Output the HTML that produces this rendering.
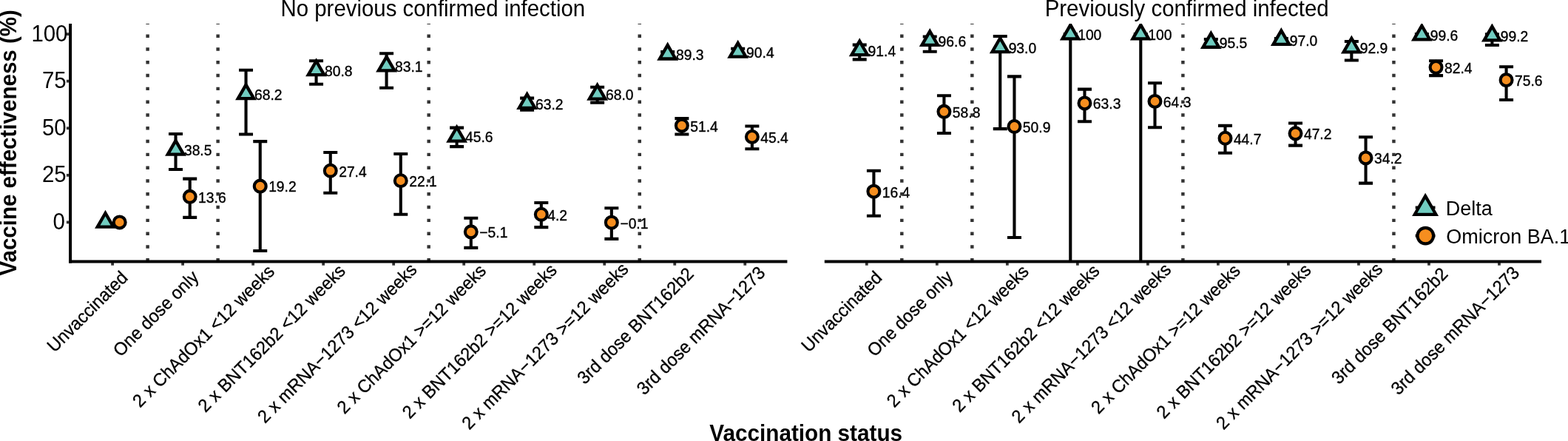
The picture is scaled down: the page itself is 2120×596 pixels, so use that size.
<!DOCTYPE html>
<html lang="en"><head><meta charset="utf-8"><title>Vaccine effectiveness against Delta and Omicron BA.1</title>
<style>html,body{margin:0;padding:0;background:#fff;overflow:hidden;}svg{display:block;}</style></head>
<body>
<svg width="2120" height="596" viewBox="0 0 2120 596">
<rect width="2120" height="596" fill="#fff"/>
<defs>
<clipPath id="cl"><rect x="95.1" y="32.0" width="969.3" height="321.5"/></clipPath>
<clipPath id="cr"><rect x="1114.8" y="32.0" width="969.2" height="321.5"/></clipPath>
</defs>
<g font-family="&quot;Liberation Sans&quot;, Arial, Helvetica, sans-serif" fill="#000">
<!-- panel: No previous confirmed infection -->
<g clip-path="url(#cl)">
<g stroke="#000" stroke-width="4.1" fill="none"><path d="M228.02,181.00H247.02M237.52,181.00V229.00M228.02,229.00H247.02"/><path d="M247.22,241.60H266.22M256.72,241.60V293.90M247.22,293.90H266.22"/><path d="M323.04,94.80H342.04M332.54,94.80V181.50M323.04,181.50H342.04"/><path d="M342.24,191.10H361.24M351.74,191.10V339.00M342.24,339.00H361.24"/><path d="M418.06,82.20H437.06M427.56,82.20V113.80M418.06,113.80H437.06"/><path d="M437.26,206.00H456.26M446.76,206.00V260.70M437.26,260.70H456.26"/><path d="M513.08,72.30H532.08M522.58,72.30V118.70M513.08,118.70H532.08"/><path d="M532.28,208.00H551.28M541.78,208.00V289.80M532.28,289.80H551.28"/><path d="M608.10,172.60H627.10M617.60,172.60V198.10M608.10,198.10H627.10"/><path d="M627.30,294.80H646.30M636.80,294.80V334.90M627.30,334.90H646.30"/><path d="M703.12,132.60H722.12M712.62,132.60V148.70M703.12,148.70H722.12"/><path d="M722.32,274.00H741.32M731.82,274.00V307.10M722.32,307.10H741.32"/><path d="M798.14,117.80H817.14M807.64,117.80V138.60M798.14,138.60H817.14"/><path d="M817.34,281.30H836.34M826.84,281.30V322.90M817.34,322.90H836.34"/><path d="M893.16,70.10H912.16M902.66,70.10V76.00M893.16,76.00H912.16"/><path d="M912.36,160.10H931.36M921.86,160.10V181.50M912.36,181.50H931.36"/><path d="M988.18,65.80H1007.18M997.68,65.80V75.00M988.18,75.00H1007.18"/><path d="M1007.38,170.50H1026.38M1016.88,170.50V201.20M1007.38,201.20H1026.38"/></g>
<path d="M142.50,288.00L153.24,306.60L131.76,306.60Z" fill="#70ccc0" stroke="#000" stroke-width="4.3" stroke-miterlimit="10"/>
<circle cx="161.70" cy="300.40" r="7.95" fill="#f68e1f" stroke="#000" stroke-width="4.1"/>
<path d="M237.52,190.09L248.26,208.69L226.78,208.69Z" fill="#70ccc0" stroke="#000" stroke-width="4.3" stroke-miterlimit="10"/>
<circle cx="256.72" cy="265.82" r="7.95" fill="#f68e1f" stroke="#000" stroke-width="4.1"/>
<path d="M332.54,114.57L343.28,133.17L321.80,133.17Z" fill="#70ccc0" stroke="#000" stroke-width="4.3" stroke-miterlimit="10"/>
<circle cx="351.74" cy="251.57" r="7.95" fill="#f68e1f" stroke="#000" stroke-width="4.1"/>
<path d="M427.56,82.53L438.30,101.13L416.82,101.13Z" fill="#70ccc0" stroke="#000" stroke-width="4.3" stroke-miterlimit="10"/>
<circle cx="446.76" cy="230.72" r="7.95" fill="#f68e1f" stroke="#000" stroke-width="4.1"/>
<path d="M522.58,76.68L533.32,95.28L511.84,95.28Z" fill="#70ccc0" stroke="#000" stroke-width="4.3" stroke-miterlimit="10"/>
<circle cx="541.78" cy="244.20" r="7.95" fill="#f68e1f" stroke="#000" stroke-width="4.1"/>
<path d="M617.60,172.04L628.34,190.64L606.86,190.64Z" fill="#70ccc0" stroke="#000" stroke-width="4.3" stroke-miterlimit="10"/>
<circle cx="636.80" cy="313.37" r="7.95" fill="#f68e1f" stroke="#000" stroke-width="4.1"/>
<path d="M712.62,127.28L723.36,145.88L701.88,145.88Z" fill="#70ccc0" stroke="#000" stroke-width="4.3" stroke-miterlimit="10"/>
<circle cx="731.82" cy="289.72" r="7.95" fill="#f68e1f" stroke="#000" stroke-width="4.1"/>
<path d="M807.64,115.08L818.38,133.68L796.90,133.68Z" fill="#70ccc0" stroke="#000" stroke-width="4.3" stroke-miterlimit="10"/>
<circle cx="826.84" cy="300.65" r="7.95" fill="#f68e1f" stroke="#000" stroke-width="4.1"/>
<path d="M902.66,60.91L913.40,79.51L891.92,79.51Z" fill="#70ccc0" stroke="#000" stroke-width="4.3" stroke-miterlimit="10"/>
<circle cx="921.86" cy="169.69" r="7.95" fill="#f68e1f" stroke="#000" stroke-width="4.1"/>
<path d="M997.68,58.11L1008.42,76.71L986.94,76.71Z" fill="#70ccc0" stroke="#000" stroke-width="4.3" stroke-miterlimit="10"/>
<circle cx="1016.88" cy="184.95" r="7.95" fill="#f68e1f" stroke="#000" stroke-width="4.1"/>
</g>
<g stroke="#000" stroke-width="0.35"><text transform="translate(248.91,210.34) scale(1,1.044)" font-size="19.3">38.5</text><text transform="translate(268.11,273.67) scale(1,1.044)" font-size="19.3">13.6</text><text transform="translate(343.93,134.82) scale(1,1.044)" font-size="19.3">68.2</text><text transform="translate(363.13,259.42) scale(1,1.044)" font-size="19.3">19.2</text><text transform="translate(438.95,102.78) scale(1,1.044)" font-size="19.3">80.8</text><text transform="translate(458.15,238.57) scale(1,1.044)" font-size="19.3">27.4</text><text transform="translate(533.97,96.93) scale(1,1.044)" font-size="19.3">83.1</text><text transform="translate(553.17,252.05) scale(1,1.044)" font-size="19.3">22.1</text><text transform="translate(628.99,192.29) scale(1,1.044)" font-size="19.3">45.6</text><text transform="translate(648.34,321.22) scale(1,1.044)" font-size="19.3">−5.1</text><text transform="translate(724.01,147.53) scale(1,1.044)" font-size="19.3">63.2</text><text transform="translate(740.23,297.57) scale(1,1.044)" font-size="19.3">4.2</text><text transform="translate(819.03,135.33) scale(1,1.044)" font-size="19.3">68.0</text><text transform="translate(838.38,308.50) scale(1,1.044)" font-size="19.3">−0.1</text><text transform="translate(914.05,81.16) scale(1,1.044)" font-size="19.3">89.3</text><text transform="translate(933.25,177.54) scale(1,1.044)" font-size="19.3">51.4</text><text transform="translate(1009.07,78.36) scale(1,1.044)" font-size="19.3">90.4</text><text transform="translate(1028.27,192.80) scale(1,1.044)" font-size="19.3">45.4</text></g>
<g clip-path="url(#cl)" stroke="#333333" stroke-width="4.45" stroke-dasharray="4.45 13.35">
<line x1="199.61" y1="353.5" x2="199.61" y2="27.0"/>
<line x1="294.63" y1="353.5" x2="294.63" y2="27.0"/>
<line x1="579.69" y1="353.5" x2="579.69" y2="27.0"/>
<line x1="864.75" y1="353.5" x2="864.75" y2="27.0"/>
</g>
<!-- panel: Previously confirmed infected -->
<g clip-path="url(#cr)">
<g stroke="#000" stroke-width="4.1" fill="none"><path d="M1152.70,60.60H1171.70M1162.20,60.60V80.40M1152.70,80.40H1171.70"/><path d="M1171.90,230.70H1190.90M1181.40,230.70V291.70M1171.90,291.70H1190.90"/><path d="M1247.72,49.50H1266.72M1257.22,49.50V69.80M1247.72,69.80H1266.72"/><path d="M1266.92,129.30H1285.92M1276.42,129.30V180.00M1266.92,180.00H1285.92"/><path d="M1342.74,49.00H1361.74M1352.24,49.00V174.10M1342.74,174.10H1361.74"/><path d="M1361.94,103.40H1380.94M1371.44,103.40V321.00M1361.94,321.00H1380.94"/><path d="M1437.76,46.10H1456.76M1447.26,46.10V420.00M1437.76,420.00H1456.76"/><path d="M1456.96,120.60H1475.96M1466.46,120.60V164.30M1456.96,164.30H1475.96"/><path d="M1532.78,46.10H1551.78M1542.28,46.10V420.00M1532.78,420.00H1551.78"/><path d="M1551.98,112.30H1570.98M1561.48,112.30V172.20M1551.98,172.20H1570.98"/><path d="M1627.80,53.00H1646.80M1637.30,53.00V62.00M1627.80,62.00H1646.80"/><path d="M1647.00,169.90H1666.00M1656.50,169.90V206.80M1647.00,206.80H1666.00"/><path d="M1722.82,52.00H1741.82M1732.32,52.00V56.50M1722.82,56.50H1741.82"/><path d="M1742.02,166.50H1761.02M1751.52,166.50V196.60M1742.02,196.60H1761.02"/><path d="M1817.84,56.00H1836.84M1827.34,56.00V81.50M1817.84,81.50H1836.84"/><path d="M1837.04,185.30H1856.04M1846.54,185.30V247.60M1837.04,247.60H1856.04"/><path d="M1912.86,46.10H1931.86M1922.36,46.10V49.50M1912.86,49.50H1931.86"/><path d="M1932.06,82.20H1951.06M1941.56,82.20V102.10M1932.06,102.10H1951.06"/><path d="M2007.88,46.20H2026.88M2017.38,46.20V61.00M2007.88,61.00H2026.88"/><path d="M2027.08,90.20H2046.08M2036.58,90.20V135.00M2027.08,135.00H2046.08"/></g>
<path d="M1162.20,55.57L1172.94,74.17L1151.46,74.17Z" fill="#70ccc0" stroke="#000" stroke-width="4.3" stroke-miterlimit="10"/>
<circle cx="1181.40" cy="258.69" r="7.95" fill="#f68e1f" stroke="#000" stroke-width="4.1"/>
<path d="M1257.22,42.35L1267.96,60.95L1246.48,60.95Z" fill="#70ccc0" stroke="#000" stroke-width="4.3" stroke-miterlimit="10"/>
<circle cx="1276.42" cy="150.87" r="7.95" fill="#f68e1f" stroke="#000" stroke-width="4.1"/>
<path d="M1352.24,51.50L1362.98,70.10L1341.50,70.10Z" fill="#70ccc0" stroke="#000" stroke-width="4.3" stroke-miterlimit="10"/>
<circle cx="1371.44" cy="170.96" r="7.95" fill="#f68e1f" stroke="#000" stroke-width="4.1"/>
<path d="M1447.26,33.70L1458.00,52.30L1436.52,52.30Z" fill="#70ccc0" stroke="#000" stroke-width="4.3" stroke-miterlimit="10"/>
<circle cx="1466.46" cy="139.43" r="7.95" fill="#f68e1f" stroke="#000" stroke-width="4.1"/>
<path d="M1542.28,33.70L1553.02,52.30L1531.54,52.30Z" fill="#70ccc0" stroke="#000" stroke-width="4.3" stroke-miterlimit="10"/>
<circle cx="1561.48" cy="136.89" r="7.95" fill="#f68e1f" stroke="#000" stroke-width="4.1"/>
<path d="M1637.30,45.14L1648.04,63.74L1626.56,63.74Z" fill="#70ccc0" stroke="#000" stroke-width="4.3" stroke-miterlimit="10"/>
<circle cx="1656.50" cy="186.73" r="7.95" fill="#f68e1f" stroke="#000" stroke-width="4.1"/>
<path d="M1732.32,41.33L1743.06,59.93L1721.58,59.93Z" fill="#70ccc0" stroke="#000" stroke-width="4.3" stroke-miterlimit="10"/>
<circle cx="1751.52" cy="180.37" r="7.95" fill="#f68e1f" stroke="#000" stroke-width="4.1"/>
<path d="M1827.34,51.76L1838.08,70.36L1816.60,70.36Z" fill="#70ccc0" stroke="#000" stroke-width="4.3" stroke-miterlimit="10"/>
<circle cx="1846.54" cy="213.43" r="7.95" fill="#f68e1f" stroke="#000" stroke-width="4.1"/>
<path d="M1922.36,34.72L1933.10,53.32L1911.62,53.32Z" fill="#70ccc0" stroke="#000" stroke-width="4.3" stroke-miterlimit="10"/>
<circle cx="1941.56" cy="90.86" r="7.95" fill="#f68e1f" stroke="#000" stroke-width="4.1"/>
<path d="M2017.38,35.73L2028.12,54.33L2006.64,54.33Z" fill="#70ccc0" stroke="#000" stroke-width="4.3" stroke-miterlimit="10"/>
<circle cx="2036.58" cy="108.15" r="7.95" fill="#f68e1f" stroke="#000" stroke-width="4.1"/>
</g>
<g stroke="#000" stroke-width="0.35"><text transform="translate(1173.59,75.82) scale(1,1.044)" font-size="19.3">91.4</text><text transform="translate(1192.79,266.54) scale(1,1.044)" font-size="19.3">16.4</text><text transform="translate(1268.61,62.60) scale(1,1.044)" font-size="19.3">96.6</text><text transform="translate(1287.81,158.72) scale(1,1.044)" font-size="19.3">58.8</text><text transform="translate(1363.63,71.75) scale(1,1.044)" font-size="19.3">93.0</text><text transform="translate(1382.83,178.81) scale(1,1.044)" font-size="19.3">50.9</text><text transform="translate(1457.16,53.95) scale(1,1.044)" font-size="19.3">100</text><text transform="translate(1477.85,147.28) scale(1,1.044)" font-size="19.3">63.3</text><text transform="translate(1552.18,53.95) scale(1,1.044)" font-size="19.3">100</text><text transform="translate(1572.87,144.74) scale(1,1.044)" font-size="19.3">64.3</text><text transform="translate(1648.69,65.39) scale(1,1.044)" font-size="19.3">95.5</text><text transform="translate(1667.89,194.58) scale(1,1.044)" font-size="19.3">44.7</text><text transform="translate(1743.71,61.58) scale(1,1.044)" font-size="19.3">97.0</text><text transform="translate(1762.91,188.22) scale(1,1.044)" font-size="19.3">47.2</text><text transform="translate(1838.73,72.01) scale(1,1.044)" font-size="19.3">92.9</text><text transform="translate(1857.93,221.28) scale(1,1.044)" font-size="19.3">34.2</text><text transform="translate(1933.75,54.97) scale(1,1.044)" font-size="19.3">99.6</text><text transform="translate(1952.95,98.71) scale(1,1.044)" font-size="19.3">82.4</text><text transform="translate(2028.77,55.98) scale(1,1.044)" font-size="19.3">99.2</text><text transform="translate(2047.97,116.00) scale(1,1.044)" font-size="19.3">75.6</text></g>
<g clip-path="url(#cr)" stroke="#333333" stroke-width="4.45" stroke-dasharray="4.45 13.35">
<line x1="1219.31" y1="353.5" x2="1219.31" y2="27.0"/>
<line x1="1314.33" y1="353.5" x2="1314.33" y2="27.0"/>
<line x1="1599.39" y1="353.5" x2="1599.39" y2="27.0"/>
<line x1="1884.45" y1="353.5" x2="1884.45" y2="27.0"/>
</g>
<g stroke="#333333" stroke-width="3.8">
<line x1="89.89999999999999" y1="300.40" x2="95.1" y2="300.40"/>
<line x1="89.89999999999999" y1="236.82" x2="95.1" y2="236.82"/>
<line x1="89.89999999999999" y1="173.25" x2="95.1" y2="173.25"/>
<line x1="89.89999999999999" y1="109.67" x2="95.1" y2="109.67"/>
<line x1="89.89999999999999" y1="46.10" x2="95.1" y2="46.10"/>
<line x1="152.10" y1="353.5" x2="152.10" y2="358.7"/>
<line x1="247.12" y1="353.5" x2="247.12" y2="358.7"/>
<line x1="342.14" y1="353.5" x2="342.14" y2="358.7"/>
<line x1="437.16" y1="353.5" x2="437.16" y2="358.7"/>
<line x1="532.18" y1="353.5" x2="532.18" y2="358.7"/>
<line x1="627.20" y1="353.5" x2="627.20" y2="358.7"/>
<line x1="722.22" y1="353.5" x2="722.22" y2="358.7"/>
<line x1="817.24" y1="353.5" x2="817.24" y2="358.7"/>
<line x1="912.26" y1="353.5" x2="912.26" y2="358.7"/>
<line x1="1007.28" y1="353.5" x2="1007.28" y2="358.7"/>
<line x1="1171.80" y1="353.5" x2="1171.80" y2="358.7"/>
<line x1="1266.82" y1="353.5" x2="1266.82" y2="358.7"/>
<line x1="1361.84" y1="353.5" x2="1361.84" y2="358.7"/>
<line x1="1456.86" y1="353.5" x2="1456.86" y2="358.7"/>
<line x1="1551.88" y1="353.5" x2="1551.88" y2="358.7"/>
<line x1="1646.90" y1="353.5" x2="1646.90" y2="358.7"/>
<line x1="1741.92" y1="353.5" x2="1741.92" y2="358.7"/>
<line x1="1836.94" y1="353.5" x2="1836.94" y2="358.7"/>
<line x1="1931.96" y1="353.5" x2="1931.96" y2="358.7"/>
<line x1="2026.98" y1="353.5" x2="2026.98" y2="358.7"/>
</g>
<g stroke="#000" stroke-width="4">
<line x1="95.1" y1="32.0" x2="95.1" y2="355.5"/>
<line x1="93.1" y1="353.5" x2="1064.4" y2="353.5"/>
<line x1="1114.8" y1="353.5" x2="2084.0" y2="353.5"/>
</g>
<text transform="translate(87.85,309.90) scale(1,1.044)" font-size="29.4" text-anchor="end">0</text>
<text transform="translate(89.65,246.32) scale(1,1.044)" font-size="29.4" text-anchor="end">25</text>
<text transform="translate(89.65,182.75) scale(1,1.044)" font-size="29.4" text-anchor="end">50</text>
<text transform="translate(89.65,119.17) scale(1,1.044)" font-size="29.4" text-anchor="end">75</text>
<text transform="translate(91.45,55.60) scale(1,1.044)" font-size="29.4" text-anchor="end">100</text>
<g stroke="#000" stroke-width="0.3">
<text transform="translate(73.68,477.32) rotate(-45) scale(1,1.044)" font-size="23.5">Unvaccinated</text>
<text transform="translate(162.88,483.14) rotate(-45) scale(1,1.044)" font-size="23.5">One dose only</text>
<text transform="translate(189.33,551.71) rotate(-45) scale(1,1.044)" font-size="23.5">2 x ChAdOx1 &lt;12 weeks</text>
<text transform="translate(277.69,558.37) rotate(-45) scale(1,1.044)" font-size="23.5">2 x BNT162b2 &lt;12 weeks</text>
<text transform="translate(358.17,572.91) rotate(-45) scale(1,1.044)" font-size="23.5">2 x mRNA−1273 &lt;12 weeks</text>
<text transform="translate(465.65,560.45) rotate(-45) scale(1,1.044)" font-size="23.5">2 x ChAdOx1 &gt;=12 weeks</text>
<text transform="translate(554.01,567.11) rotate(-45) scale(1,1.044)" font-size="23.5">2 x BNT162b2 &gt;=12 weeks</text>
<text transform="translate(634.50,581.64) rotate(-45) scale(1,1.044)" font-size="23.5">2 x mRNA−1273 &gt;=12 weeks</text>
<text transform="translate(790.61,520.55) rotate(-45) scale(1,1.044)" font-size="23.5">3rd dose BNT162b2</text>
<text transform="translate(871.09,535.09) rotate(-45) scale(1,1.044)" font-size="23.5">3rd dose mRNA−1273</text>
<text transform="translate(1093.38,477.32) rotate(-45) scale(1,1.044)" font-size="23.5">Unvaccinated</text>
<text transform="translate(1182.58,483.14) rotate(-45) scale(1,1.044)" font-size="23.5">One dose only</text>
<text transform="translate(1209.03,551.71) rotate(-45) scale(1,1.044)" font-size="23.5">2 x ChAdOx1 &lt;12 weeks</text>
<text transform="translate(1297.39,558.37) rotate(-45) scale(1,1.044)" font-size="23.5">2 x BNT162b2 &lt;12 weeks</text>
<text transform="translate(1377.87,572.91) rotate(-45) scale(1,1.044)" font-size="23.5">2 x mRNA−1273 &lt;12 weeks</text>
<text transform="translate(1485.35,560.45) rotate(-45) scale(1,1.044)" font-size="23.5">2 x ChAdOx1 &gt;=12 weeks</text>
<text transform="translate(1573.71,567.11) rotate(-45) scale(1,1.044)" font-size="23.5">2 x BNT162b2 &gt;=12 weeks</text>
<text transform="translate(1654.20,581.64) rotate(-45) scale(1,1.044)" font-size="23.5">2 x mRNA−1273 &gt;=12 weeks</text>
<text transform="translate(1810.31,520.55) rotate(-45) scale(1,1.044)" font-size="23.5">3rd dose BNT162b2</text>
<text transform="translate(1890.79,535.09) rotate(-45) scale(1,1.044)" font-size="23.5">3rd dose mRNA−1273</text>
</g>
<text transform="translate(379.50,21.50) scale(1,1.044)" font-size="29.4">No previous confirmed infection</text>
<text transform="translate(1412.70,21.50) scale(1,1.044)" font-size="29.4">Previously confirmed infected</text>
<text transform="translate(959.30,595.50) scale(1,1.044)" font-size="29.7" font-weight="bold">Vaccination status</text>
<text transform="translate(21.90,372.60) rotate(-90) scale(1,1.044)" font-size="29.55" font-weight="bold">Vaccine effectiveness (%)</text>
<g stroke="#000" stroke-width="4"><line x1="1913.7" y1="280.5" x2="1940.5" y2="280.5"/><line x1="1913.7" y1="318.6" x2="1940.5" y2="318.6"/></g>
<path d="M1927.10,264.93L1941.45,289.79L1912.75,289.79Z" fill="#70ccc0" stroke="#000" stroke-width="4.23" stroke-miterlimit="10"/>
<circle cx="1927.30" cy="318.60" r="10.8" fill="#f68e1f" stroke="#000" stroke-width="4.15"/>
<text transform="translate(1954.80,290.50) scale(1,1.044)" font-size="27">Delta</text>
<text transform="translate(1955.30,328.50) scale(1,1.044)" font-size="27">Omicron BA.1</text>
</g></svg>
</body></html>
